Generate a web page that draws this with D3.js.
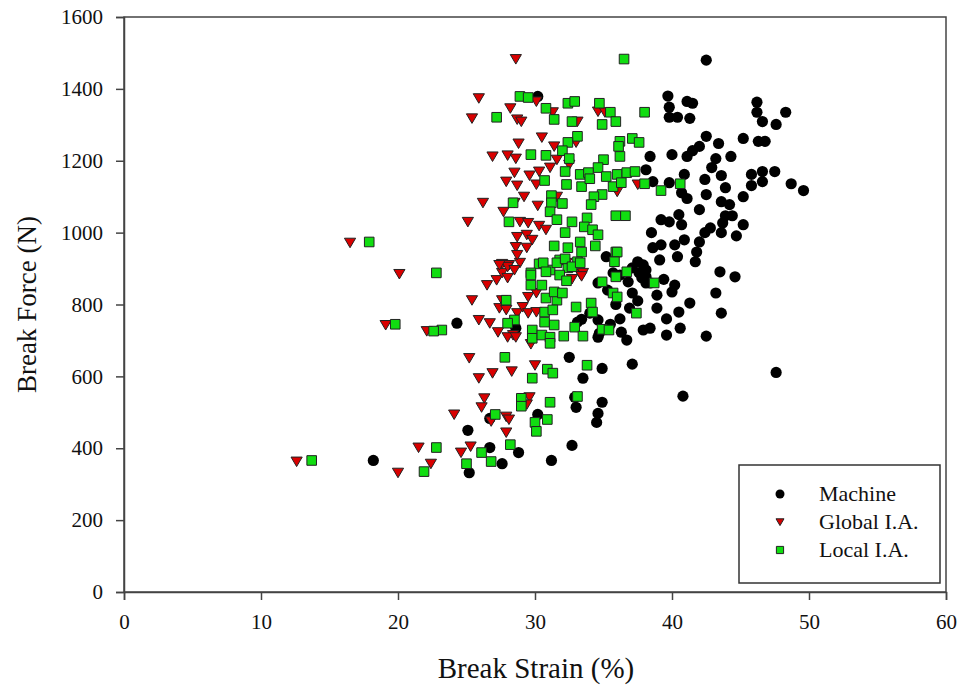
<!DOCTYPE html>
<html><head><meta charset="utf-8">
<script src="https://cdn.jsdelivr.net/npm/d3@7"></script>
<style>body{margin:0;background:#fff;} svg{display:block;}</style>
</head><body><svg id="chart" width="959" height="688"></svg>
<script>
const seriesNames = ["Machine", "Global I.A.", "Local I.A."];
const xTicks = [0, 10, 20, 30, 40, 50, 60];
const yTicks = [0, 200, 400, 600, 800, 1000, 1200, 1400, 1600];

const machine = [
[42.5,1480],[30.2,1379],[39.7,1380],[41.1,1365],[41.5,1360],[39.8,1349],[40.4,1321],[41.3,1318],[39.8,1321],
[46.2,1363],[46.2,1335],[46.6,1309],[47.6,1301],[48.3,1335],
[42.5,1268],[43.4,1248],[42.0,1240],[41.5,1228],[45.2,1262],[46.3,1254],[46.8,1254],
[44.3,1212],[43.2,1206],[42.9,1181],[43.6,1159],[42.4,1148],[41.1,1212],[40.0,1217],[38.4,1212],
[45.8,1162],[46.6,1170],[47.5,1170],[46.6,1142],[45.8,1131],[48.7,1136],[49.6,1117],
[42.5,1106],[43.9,1125],[43.6,1086],[44.2,1078],[45.2,1100],[42.0,1064],[43.9,1047],[44.4,1047],[43.7,1027],[45.2,1022],[42.8,1013],[42.4,1000],[43.6,1000],[44.7,991],[42.0,974],[41.8,946],[41.7,919],[43.5,891],[44.6,877],
[38.1,1175],[38.6,1142],[39.8,1139],[40.9,1162],[40.7,1111],[41.1,1095],
[39.2,1036],[39.8,1030],[40.5,1050],[40.7,1022],[38.5,1000],[39.2,966],[40.2,966],[40.9,980],[40.4,933],[39.1,924],[37.5,919],[38.1,896],[37.6,888],[37.1,902],[35.2,933],[35.7,888],[36.2,882],[38.6,958],[37.9,910],[38.1,877],
[43.2,832],[43.6,776],[42.5,712],[41.3,804],[40.5,779],[40.6,734],[39.6,715],[38.9,826],[38.4,734],[40.0,835],[40.2,854],[39.4,870],[38.4,860],
[36.8,863],[37.1,832],[36.9,790],[37.8,874],[38.1,860],[34.7,720],[36.3,723],[36.7,701],[37.9,729],[34.0,776],[34.6,757],[33.4,759],[34.6,709],[35.5,745],[35.9,800],[36.2,760],[37.5,810],[38.9,790],[39.6,760],[35.3,840],[34.6,860],
[40.8,545],[47.6,611],
[24.3,748],[28.6,734],[33.1,751],[32.5,653],[33.5,595],[34.9,622],[37.1,634],[32.9,542],[33.0,514],[34.9,528],[34.6,497],[34.5,472],
[25.1,450],[26.7,402],[30.2,494],[32.7,408],[18.2,366],[25.2,332],[26.7,483],[27.6,357],[28.8,388],[31.2,366]
];

const globalIA = [
[28.6,1483],[25.9,1374],[25.4,1318],[28.2,1346],[28.7,1315],[29.0,1309],[28.8,1248],[26.9,1212],[28.0,1215],[28.6,1206],
[30.5,1265],[31.4,1240],[30.1,1365],[31.3,1335],[33.1,1309],[33.0,1251],[28.5,1167],[29.6,1159],[31.1,1181],[31.6,1203],
[27.9,1142],[28.7,1131],[30.1,1134],[26.2,1083],[27.7,1058],[29.2,1100],[30.2,1075],[25.1,1030],[28.5,1083],[28.9,1030],
[29.5,1027],[30.3,1019],[28.7,988],[29.4,994],[28.6,960],[29.4,958],[29.8,980],[30.8,1008],[27.6,913],[28.1,910],[28.9,916],
[31.6,1100],[32.5,1189],[34.6,1337],[35.1,1335],[36.0,1114],[37.5,1134],[33.3,885],[33.5,888],[32.3,916],[30.3,1170],
[20.1,885],[26.5,854],[25.4,812],[25.9,757],[26.7,748],[27.3,723],[22.1,726],[27.2,868],[27.6,888],[28.0,905],[27.4,910],
[28.0,874],[28.5,896],[28.7,938],[27.6,812],[27.4,790],[27.9,785],[28.7,776],[29.5,821],[29.1,793],[29.5,776],[30.1,779],
[28.4,715],[28.0,709],[28.6,709],[29.7,690],[30.1,832],[33.4,879],[32.7,871],[25.2,651],[30.0,631],[25.9,595],[26.9,609],
[28.3,614],[26.3,539],[26.1,514],[24.1,494],[27.9,488],[28.1,480],[26.8,475],[29.6,542],[27.9,444],[21.5,402],[25.3,405],
[19.1,743],[12.6,363],[20.0,332],[22.4,357],[24.6,388],[16.5,972],[29.4,522]
];

const localIA = [
[36.5,1483],[28.9,1379],[29.5,1376],[27.2,1321],[30.8,1346],[31.4,1315],[32.4,1360],[32.9,1365],[32.7,1309],[34.7,1360],
[35.5,1335],[34.9,1301],[35.9,1309],[38.0,1335],[33.1,1268],[32.4,1251],[36.2,1254],[36.1,1240],[37.1,1262],[37.6,1251],
[36.2,1212],[32.0,1228],[32.5,1206],[29.7,1217],[30.8,1215],[35.0,1203],[34.6,1181],[32.2,1170],[33.3,1162],[33.9,1167],
[35.2,1156],[36.0,1162],[36.7,1167],[37.3,1170],[30.7,1145],[32.3,1134],[33.4,1128],[34.0,1150],[35.7,1128],[36.3,1139],
[34.9,1106],[34.3,1100],[34.1,1078],[38.0,1136],[39.2,1117],[40.6,1136],[31.2,1103],[32.0,1081],[32.7,1030],[31.2,1083],
[28.4,1083],[28.1,1030],[31.1,1058],[31.6,1036],[32.2,1000],[33.8,1041],[33.6,1016],[34.2,1008],[34.6,994],[35.9,1047],
[36.6,1047],[31.4,963],[32.4,958],[33.3,974],[33.4,946],[34.4,963],[30.3,913],[31.1,896],[31.8,924],[32.4,902],[33.1,919],
[35.9,946],[36.7,891],[29.7,888],[22.8,888],[17.9,974],[30.6,916],
[27.9,812],[28.5,757],[28.0,748],[29.8,729],[29.8,706],[29.7,882],[29.7,854],[30.5,854],[30.8,891],[31.6,916],[32.2,927],
[32.7,905],[33.3,916],[31.8,882],[32.3,866],[30.8,818],[31.6,812],[31.4,835],[32.0,832],[30.7,779],[31.3,785],[30.7,751],
[31.4,743],[30.5,715],[31.1,709],[31.1,692],[32.1,712],[32.9,737],[33.5,712],[33.0,793],[34.1,804],[34.2,779],[34.9,731],
[35.4,729],[34.9,863],[35.9,877],[35.7,832],[36.0,821],[37.4,776],[27.8,653],[29.8,595],[30.9,620],[31.3,609],[33.8,631],
[29.0,539],[29.0,517],[31.1,528],[33.1,544],[27.1,494],[30.0,472],[30.9,480],[30.1,447],[28.2,410],[22.8,402],[23.2,729],
[22.6,726],[36.0,946],[35.8,919],[19.8,745],[13.7,366],[21.9,335],[26.1,388],[26.8,363],[25.0,357],[38.7,860]
];

const svg = d3.select("#chart");
const mLeft = 124, mRight = 946, mTop = 17, mBottom = 592;
const x = d3.scaleLinear().domain([0, 60]).range([mLeft, mRight]);
const y = d3.scaleLinear().domain([0, 1600]).range([mBottom, mTop]);
const serif = "'Liberation Serif','Times New Roman',serif";

svg.append("rect").attr("x", mLeft).attr("y", mTop).attr("width", mRight - mLeft).attr("height", mBottom - mTop)
  .attr("fill", "none").attr("stroke", "#444").attr("stroke-width", 1.5);

const gx = svg.append("g").attr("transform", `translate(0,${mBottom})`)
  .call(d3.axisBottom(x).tickValues(xTicks).tickSize(8).tickPadding(14).tickFormat(d3.format("d")));
const gy = svg.append("g").attr("transform", `translate(${mLeft},0)`)
  .call(d3.axisLeft(y).tickValues(yTicks).tickSize(8).tickPadding(13).tickFormat(d3.format("d")));
[gx, gy].forEach(g => {
  g.select(".domain").attr("stroke", "#444").attr("stroke-width", 1.5);
  g.selectAll(".tick line").attr("stroke", "#444").attr("stroke-width", 1.5);
  g.selectAll(".tick text").attr("font-family", serif).attr("font-size", 21).attr("fill", "#111");
});

svg.append("text").attr("x", 536).attr("y", 678).attr("text-anchor", "middle")
  .attr("font-family", serif).attr("font-size", 29).attr("fill", "#111").text("Break Strain (%)");
svg.append("text").attr("transform", `translate(36,${(mTop + mBottom) / 2}) rotate(-90)`).attr("text-anchor", "middle")
  .attr("font-family", serif).attr("font-size", 27).attr("fill", "#111").text("Break Force (N)");

const triPath = (cx, cy, s) => `M${cx - s},${cy - s * 0.8}L${cx + s},${cy - s * 0.8}L${cx},${cy + s * 0.9}Z`;
const sqPath = (cx, cy, s) => `M${cx - s},${cy - s}h${2 * s}v${2 * s}h${-2 * s}Z`;

const plot = svg.append("g");
plot.selectAll("circle.m").data(machine).join("circle").attr("class", "m")
  .attr("cx", d => x(d[0])).attr("cy", d => y(d[1])).attr("r", 5.6).attr("fill", "#000");
plot.selectAll("path.g").data(globalIA).join("path").attr("class", "g")
  .attr("d", d => triPath(x(d[0]), y(d[1]), 5.6)).attr("fill", "#d90000").attr("stroke", "#222").attr("stroke-width", 1);
plot.selectAll("path.l").data(localIA).join("path").attr("class", "l")
  .attr("d", d => sqPath(x(d[0]), y(d[1]), 4.8)).attr("fill", "#11dd11").attr("stroke", "#222").attr("stroke-width", 1);

const lg = svg.append("g");
lg.append("rect").attr("x", 739).attr("y", 465).attr("width", 201).attr("height", 118)
  .attr("fill", "#fff").attr("stroke", "#333").attr("stroke-width", 1.5);
const ly = [494, 522, 550];
lg.append("circle").attr("cx", 780).attr("cy", ly[0]).attr("r", 4.5).attr("fill", "#000");
lg.append("path").attr("d", triPath(780, ly[1], 4)).attr("fill", "#d90000").attr("stroke", "#222");
lg.append("path").attr("d", sqPath(780, ly[2], 3.6)).attr("fill", "#11dd11").attr("stroke", "#222");
seriesNames.forEach((n, i) => {
  lg.append("text").attr("x", 819).attr("y", ly[i] + 7).attr("font-family", serif).attr("font-size", 22)
    .attr("fill", "#111").text(n);
});
</script></body></html>
